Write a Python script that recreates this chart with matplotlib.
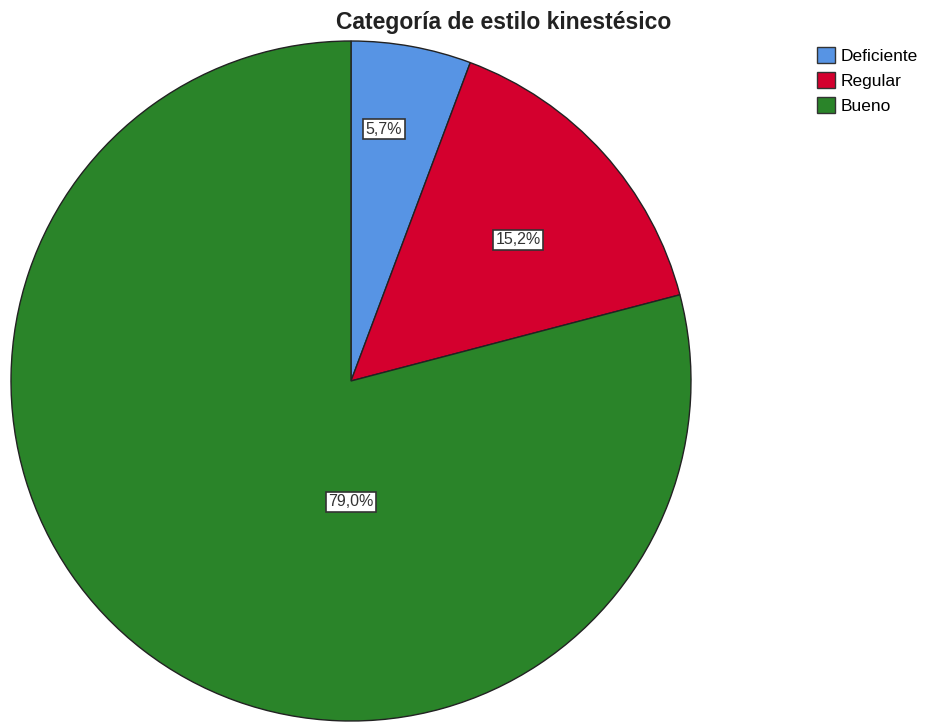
import matplotlib.pyplot as plt
import numpy as np

categorias = ["Deficiente", "Regular", "Bueno"]
porcentajes = [5.7, 15.2, 79.0]
etiquetas = ["5,7%", "15,2%", "79,0%"]

colores = ["#5794e4", "#d4002e", "#2a8429"]
# desplazamiento de cada etiqueta respecto al centro (pixeles)
offsets_etiquetas = [(33, 252), (167, 141), (0, -121)]

fig = plt.figure(figsize=(9.28, 7.22), dpi=100)
ax = fig.add_axes([0, 0, 1, 1])

centro = (351, 341)
wedges, _ = ax.pie(porcentajes, colors=colores, startangle=90, counterclock=False,
                   radius=340, center=centro, frame=True,
                   wedgeprops=dict(edgecolor="#222222", linewidth=1.0))
ax.set_xlim(0, 928)
ax.set_ylim(0, 722)
ax.set_aspect("equal")
ax.axis("off")

for txt, (dx, dy) in zip(etiquetas, offsets_etiquetas):
    ax.text(centro[0] + dx, centro[1] + dy, txt, ha="center", va="center",
            fontsize=11.5, family="Liberation Sans", color="#333333",
            bbox=dict(boxstyle="square,pad=0.15", fc="white", ec="#333333", lw=1.2))

fig.text(504 / 928, 1 - 22 / 722, "Categoría de estilo kinestésico", ha="center", va="center",
         fontsize=16.5, fontweight="bold", family="Liberation Sans", color="#222222")

leg = fig.legend(wedges, categorias, loc="upper left", bbox_to_anchor=(817 / 928, 1 - 47 / 722),
                 frameon=False, prop=dict(family="Liberation Sans", size=12.5),
                 handlelength=1.05, handleheight=1.05, handletextpad=0.3, labelspacing=0.45,
                 borderpad=0, borderaxespad=0)
for h in leg.legend_handles:
    h.set_edgecolor("#333333")
    h.set_linewidth(1.0)

fig.savefig("out.png", dpi=100)
